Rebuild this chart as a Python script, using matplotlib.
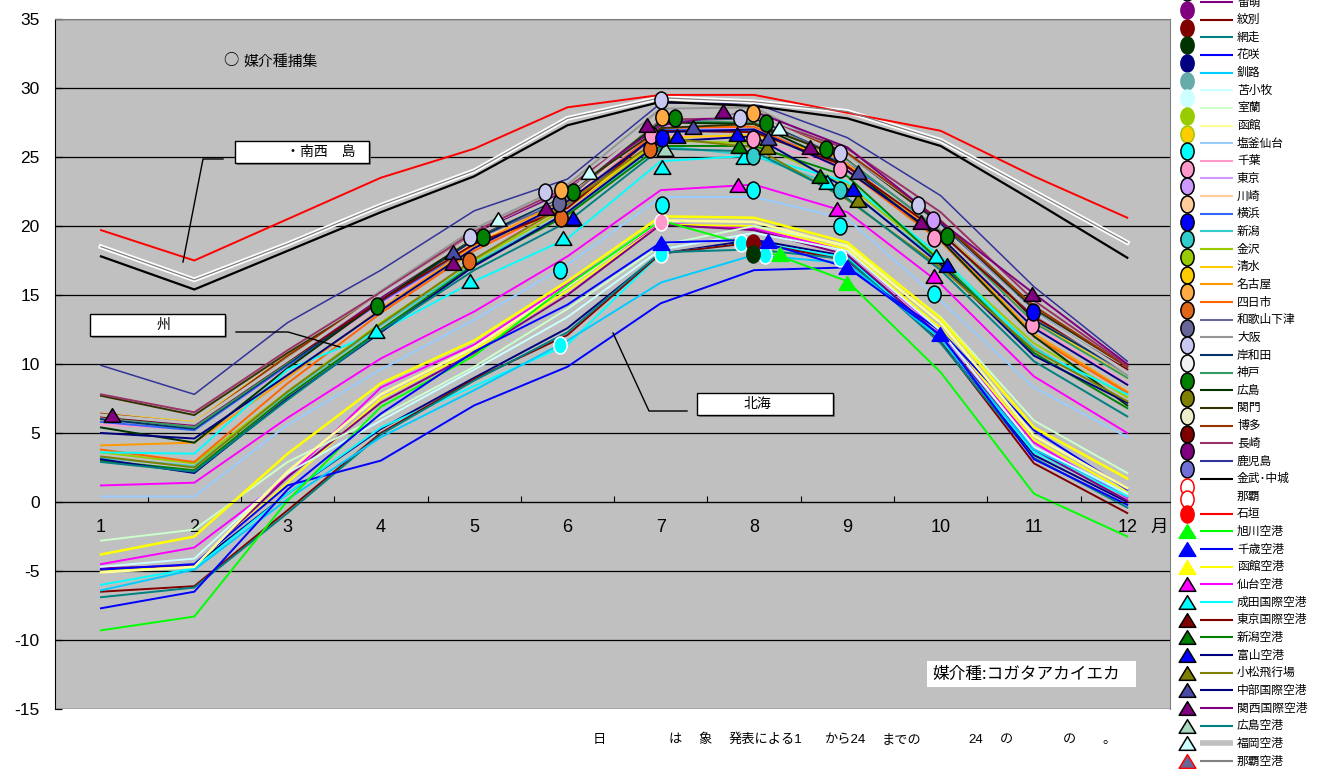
import matplotlib
matplotlib.use("Agg")
import matplotlib.pyplot as plt
from matplotlib.path import Path
from matplotlib.transforms import Affine2D
from matplotlib.patches import Rectangle

plt.rcParams['font.family'] = ['Liberation Sans', 'Noto Sans CJK JP', 'DejaVu Sans']
CJK = ['Noto Sans CJK JP', 'DejaVu Sans']

months = list(range(1, 13))
month_labels = [str(m) for m in months]
y_ticks = [35, 30, 25, 20, 15, 10, 5, 0, -5, -10, -15]

# ---- monthly mean temperature (deg C), Jan..Dec ----
# Hokkaido ports
wakkanai   = [-4.9, -4.6, 0.6, 5.3, 9.0, 12.6, 18.0, 19.0, 17.8, 11.8, 3.4, 0.0]
ishikari   = [-4.5, -3.3, 1.8, 8.3, 11.4, 15.8, 20.2, 19.8, 18.2, 12.3, 4.3, 0.3]
otaru      = [-5.0, -4.6, 1.4, 7.5, 11.0, 15.3, 20.1, 20.0, 18.3, 12.6, 4.5, 0.7]
tokachi    = [-6.0, -4.8, 0.6, 5.4, 8.4, 11.4, 18.0, 18.8, 17.7, 11.8, 3.6, 0.4]
rumoi      = [-4.8, -4.6, 1.8, 7.2, 10.8, 15.0, 20.1, 19.7, 17.9, 12.0, 3.8, 0.1]
monbetsu   = [-6.5, -6.1, -0.6, 5.0, 8.9, 12.1, 18.0, 18.8, 17.5, 11.6, 2.8, -0.8]
abashiri   = [-6.9, -6.2, -0.8, 4.9, 8.8, 12.3, 18.1, 18.3, 17.6, 11.5, 3.2, -0.4]
hanasaki   = [-4.9, -4.5, 1.2, 3.0, 7.0, 9.8, 14.4, 16.8, 17.0, 12.4, 5.2, 0.9]
kushiro    = [-6.4, -4.9, 0.2, 4.7, 8.1, 11.7, 15.9, 17.9, 17.3, 11.8, 3.8, 0.6]
tomakomai  = [-4.7, -4.1, 2.1, 5.9, 9.6, 13.4, 18.3, 19.5, 18.2, 12.4, 4.0, 0.6]
muroran    = [-2.8, -2.0, 2.9, 6.2, 9.8, 14.0, 18.6, 20.0, 18.6, 13.4, 5.9, 2.1]
hakodate   = [-5.1, -4.7, 2.2, 7.8, 11.2, 15.6, 20.4, 20.3, 18.5, 13.0, 4.8, 1.0]
# Honshu / Shikoku / Kyushu ports
shiogama   = [0.4, 0.4, 5.6, 9.6, 13.2, 17.2, 22.1, 22.1, 20.5, 14.6, 8.3, 4.7]
chiba      = [5.6, 5.3, 9.8, 14.4, 18.4, 21.0, 26.6, 26.3, 24.1, 19.1, 12.8, 8.6]
tokyo      = [6.1, 5.6, 10.3, 14.8, 18.8, 21.6, 27.2, 27.0, 24.6, 20.4, 13.5, 9.2]
kawasaki   = [6.0, 5.5, 10.0, 14.7, 18.8, 21.8, 27.6, 27.8, 24.8, 20.0, 13.3, 9.0]
yokohama   = [5.8, 5.2, 9.9, 14.5, 18.6, 21.5, 27.0, 26.9, 24.5, 20.0, 13.8, 9.4]
niigata    = [3.2, 2.6, 7.9, 12.8, 17.3, 21.0, 25.8, 25.1, 22.6, 17.4, 11.2, 7.2]
kanazawa   = [3.6, 2.8, 8.0, 13.0, 17.5, 21.3, 26.2, 26.0, 23.0, 17.6, 11.5, 7.6]
shimizu    = [6.4, 5.8, 10.6, 14.8, 18.6, 21.3, 26.4, 26.6, 24.8, 19.8, 13.2, 9.0]
nagoya     = [4.1, 4.3, 9.0, 14.0, 18.6, 22.0, 27.8, 28.0, 24.5, 19.2, 12.2, 8.0]
yokkaichi  = [3.8, 2.9, 8.6, 13.7, 18.2, 21.6, 27.1, 27.2, 24.0, 18.9, 12.0, 7.9]
wakayama   = [6.3, 5.4, 10.2, 14.7, 19.0, 22.0, 27.6, 27.8, 24.8, 19.8, 13.6, 9.6]
osaka      = [6.0, 5.5, 10.4, 15.3, 19.8, 23.0, 28.5, 28.6, 25.2, 19.9, 13.4, 9.2]
kishiwada  = [6.0, 5.3, 10.0, 14.6, 19.0, 22.3, 27.8, 27.8, 25.0, 20.2, 13.2, 9.4]
kobe       = [6.2, 5.4, 10.1, 14.9, 19.2, 22.5, 27.6, 27.5, 24.8, 19.6, 13.0, 9.0]
hiroshima  = [5.4, 4.3, 9.7, 14.6, 19.2, 22.4, 27.5, 27.4, 24.3, 19.0, 12.0, 7.0]
kanmon     = [7.7, 6.3, 10.8, 14.9, 19.2, 22.4, 27.1, 27.4, 24.9, 20.3, 14.0, 9.8]
hakata     = [6.4, 5.7, 10.6, 15.0, 19.4, 22.4, 27.8, 27.9, 25.3, 20.4, 14.2, 9.8]
nagasaki   = [7.8, 6.5, 11.0, 15.2, 19.6, 22.8, 27.7, 27.9, 25.6, 21.0, 14.6, 9.9]
kagoshima  = [9.9, 7.8, 13.0, 16.8, 21.1, 23.4, 28.9, 28.9, 26.4, 22.2, 15.6, 10.2]
# Okinawa ports
kin        = [17.8, 15.4, 18.2, 21.0, 23.6, 27.3, 29.0, 28.7, 27.8, 25.8, 21.8, 17.7]
naha       = [18.5, 16.1, 18.7, 21.5, 24.0, 27.8, 29.3, 29.0, 28.3, 26.2, 22.5, 18.8]
ishigaki   = [19.7, 17.5, 20.5, 23.5, 25.6, 28.6, 29.5, 29.5, 28.2, 26.9, 23.6, 20.6]
# airports
asahikawa_ap = [-9.3, -8.3, 0.1, 6.9, 10.6, 15.7, 20.4, 18.5, 16.0, 9.4, 0.6, -2.5]
chitose_ap   = [-7.7, -6.5, 0.9, 6.4, 10.9, 14.3, 18.8, 19.0, 17.0, 12.1, 3.1, -0.2]
hakodate_ap  = [-3.8, -2.5, 3.5, 8.6, 11.7, 16.0, 20.7, 20.6, 18.8, 13.3, 5.4, 1.7]
sendai_ap    = [1.2, 1.4, 6.1, 10.4, 13.8, 17.8, 22.6, 23.0, 21.0, 15.8, 9.1, 5.0]
narita_ap    = [3.6, 3.5, 9.6, 12.4, 16.0, 19.1, 24.7, 25.1, 23.2, 17.8, 11.0, 7.8]
haneda_ap    = [6.2, 5.6, 10.2, 14.6, 18.7, 21.3, 26.9, 26.8, 24.3, 19.5, 13.4, 9.6]
niigata_ap   = [3.0, 2.3, 7.7, 12.5, 17.2, 20.8, 25.8, 25.8, 23.6, 17.4, 10.8, 6.8]
toyama_ap    = [3.1, 2.1, 7.5, 12.3, 17.1, 21.0, 26.1, 26.5, 22.7, 17.2, 10.6, 7.2]
komatsu_ap   = [3.3, 2.5, 8.0, 12.9, 17.6, 21.6, 26.4, 25.7, 21.9, 17.0, 11.0, 7.3]
chubu_ap     = [5.0, 4.6, 9.2, 13.9, 18.4, 21.8, 26.8, 27.0, 24.0, 19.2, 12.6, 8.5]
kansai_ap    = [6.3, 5.6, 10.3, 14.8, 19.4, 22.6, 27.3, 28.3, 25.7, 20.3, 15.1, 10.0]
hiroshima_ap = [2.9, 2.2, 7.4, 12.4, 16.8, 20.3, 25.6, 25.4, 22.0, 16.8, 10.2, 6.2]
fukuoka_ap   = [6.3, 5.7, 10.3, 15.0, 19.3, 22.4, 27.9, 28.0, 25.0, 19.9, 13.7, 9.4]
naha_ap      = [18.5, 16.1, 18.7, 21.5, 24.0, 27.8, 29.3, 29.0, 28.3, 26.2, 22.5, 18.8]

# ---- months (x) and temperatures (y) where the vector species was captured ----
cap_kansai_x = [1.12, 4.77, 5.77, 6.85, 7.67, 8.60, 9.79, 10.98]
cap_kansai_y = [6.3, 17.3, 21.3, 27.3, 28.3, 25.7, 20.3, 15.1]
cap_chubu_x = [4.77, 7.35, 8.15, 9.11]
cap_chubu_y = [18.1, 27.2, 26.4, 23.9]
cap_osaka_x = [4.95, 5.76, 7.00, 7.85, 8.92, 9.76]
cap_osaka_y = [19.2, 22.5, 29.1, 27.8, 25.3, 21.5]
cap_nagoya_x = [5.93, 7.01, 7.99]
cap_nagoya_y = [22.6, 27.9, 28.2]
cap_kobe_x = [3.96, 5.09, 6.06, 7.15, 8.13, 8.77, 10.07]
cap_kobe_y = [14.2, 19.2, 22.5, 27.8, 27.5, 25.6, 19.3]
cap_wakayama_x = [5.91]
cap_wakayama_y = [21.7]
cap_yokkaichi_x = [4.94, 5.93, 6.88]
cap_yokkaichi_y = [17.5, 20.6, 25.6]
cap_toyama_x = [6.06, 7.17, 7.82, 9.06, 10.07]
cap_toyama_y = [20.6, 26.5, 26.7, 22.7, 17.2]
cap_fukuoka_x = [5.26, 6.23, 8.27]
cap_fukuoka_y = [20.5, 23.9, 27.1]
cap_narita_x = [3.95, 4.95, 5.95, 7.01, 7.89, 8.78, 9.95]
cap_narita_y = [12.4, 16.0, 19.1, 24.3, 25.0, 23.2, 17.8]
cap_chiba_x = [6.89, 7.99, 8.92, 9.93, 10.98]
cap_chiba_y = [26.6, 26.3, 24.1, 19.1, 12.8]
cap_yokohama_x = [7.01, 10.99]
cap_yokohama_y = [26.4, 13.8]
cap_hiroshima_ap_x = [7.05]
cap_hiroshima_ap_y = [25.6]
cap_niigata_ap_x = [7.84, 8.71]
cap_niigata_ap_y = [25.8, 23.6]
cap_komatsu_x = [8.14, 9.11]
cap_komatsu_y = [25.7, 21.9]
cap_niigata_x = [7.99, 8.92]
cap_niigata_y = [25.1, 22.6]
cap_sendai_ap_x = [7.83, 8.89, 9.93]
cap_sendai_ap_y = [23.0, 21.2, 16.4]
cap_shiogama_x = [5.92, 7.01, 7.99, 8.92, 9.93]
cap_shiogama_y = [16.8, 21.5, 22.6, 20.0, 15.1]
cap_tokyo_x = [9.92]
cap_tokyo_y = [20.4]
cap_tokachi_x = [5.92, 7.00, 7.86, 8.12, 8.92]
cap_tokachi_y = [11.4, 18.0, 18.8, 17.9, 17.7]
cap_hakodate_x = [7.00]
cap_hakodate_y = [20.3]
cap_monbetsu_x = [7.99]
cap_monbetsu_y = [18.8]
cap_abashiri_x = [7.99]
cap_abashiri_y = [18.0]
cap_asahikawa_x = [8.28, 9.00]
cap_asahikawa_y = [18.0, 15.9]
cap_chitose_x = [7.00, 8.15, 9.00, 9.99]
cap_chitose_y = [18.8, 18.9, 17.0, 12.2]

# ---- station names (legend order) ----
names = ['稚内', '石狩湾新港', '小樽', '十勝',
         '留萌', '紋別', '網走', '花咲', '釧路', '苫小牧', '室蘭', '函館',
         '塩釜仙台', '千葉', '東京', '川崎', '横浜', '新潟', '金沢', '清水',
         '名古屋', '四日市', '和歌山下津', '大阪', '岸和田', '神戸', '広島',
         '関門', '博多', '長崎', '鹿児島', '金武･中城', '那覇', '石垣',
         '旭川空港', '千歳空港', '函館空港', '仙台空港', '成田国際空港',
         '東京国際空港', '新潟空港', '富山空港', '小松飛行場', '中部国際空港',
         '関西国際空港', '広島空港', '福岡空港', '那覇空港']
values = [wakkanai, ishikari, otaru, tokachi,
          rumoi, monbetsu, abashiri, hanasaki, kushiro, tomakomai, muroran, hakodate,
          shiogama, chiba, tokyo, kawasaki, yokohama, niigata, kanazawa, shimizu,
          nagoya, yokkaichi, wakayama, osaka, kishiwada, kobe, hiroshima,
          kanmon, hakata, nagasaki, kagoshima, kin, naha, ishigaki,
          asahikawa_ap, chitose_ap, hakodate_ap, sendai_ap, narita_ap,
          haneda_ap, niigata_ap, toyama_ap, komatsu_ap, chubu_ap,
          kansai_ap, hiroshima_ap, fukuoka_ap, naha_ap]

line_colors = ['#000080', '#ff00ff', '#ffff00', '#00ffff',
               '#800080', '#800000', '#008080', '#0000ff', '#00ccff', '#ccffff', '#ccffcc', '#ffff99',
               '#99ccff', '#ff99cc', '#cc99ff', '#ffcc99', '#3366ff', '#33cccc', '#99cc00', '#ffcc00',
               '#ff9900', '#ff6600', '#666699', '#969696', '#003366', '#339966', '#003300',
               '#333300', '#993300', '#993366', '#333399', '#000000', '#ffffff', '#ff0000',
               '#00ff00', '#0000ff', '#ffff00', '#ff00ff', '#00ffff',
               '#800000', '#008000', '#000080', '#808000', '#000080',
               '#800080', '#008080', '#c0c0c0', '#808080']
line_widths = {'金武･中城': 1.6, '那覇': 3.4, '那覇空港': 0.9, '福岡空港': 2.2,
               '鹿児島': 1.1, '函館空港': 1.8, '函館': 1.8}

# legend key markers: (fill, edge, shape)
key_markers = [None, None, None, ('#00ffff', 'black', 'o'),
               ('#800080', '#800080', 'o'), ('#800000', '#800000', 'o'), ('#003300', '#003300', 'o'),
               ('#000080', '#000080', 'o'), ('#66aaaa', '#66aaaa', 'o'), ('#ccffff', '#ccffff', 'o'),
               ('#99cc00', '#99cc00', 'o'), ('#ffcc00', '#99cc00', 'o'),
               ('#00ffff', 'black', 'o'), ('#ff99cc', 'black', 'o'), ('#cc99ff', 'black', 'o'),
               ('#ffcc99', 'black', 'o'), ('#0000ff', 'black', 'o'), ('#33cccc', 'black', 'o'),
               ('#99cc00', 'black', 'o'), ('#ffcc00', 'black', 'o'),
               ('#ffaa44', 'black', 'o'), ('#e0661a', 'black', 'o'), ('#666699', 'black', 'o'),
               ('#c8c8f0', 'black', 'o'), ('#f2f2f2', 'black', 'o'), ('#008000', 'black', 'o'),
               ('#808000', 'black', 'o'), ('#eeeecc', 'black', 'o'), ('#800000', 'black', 'o'),
               ('#800080', 'black', 'o'), ('#7070d8', 'black', 'o'), ('#ffffff', '#ff0000', 'o'),
               ('#ffffff', '#ff0000', 'o'), ('#ff0000', '#ff0000', 'o'),
               ('#00ff00', '#00ff00', 't'), ('#0000ff', '#0000ff', 't'), ('#ffff00', '#ffff00', 't'),
               ('#ff00ff', 'black', 't'), ('#00ffff', 'black', 't'), ('#800000', 'black', 't'),
               ('#008000', 'black', 't'), ('#0000ff', 'black', 't'), ('#808000', 'black', 't'),
               ('#4a4aa8', 'black', 't'), ('#800080', 'black', 't'), ('#a8d8c0', 'black', 't'),
               ('#ccffff', 'black', 't'), ('#666699', '#ff0000', 't')]

ELLIPSE = Path.unit_circle().transformed(Affine2D().scale(0.78, 1.0))
TRI = Path([(0, 0.82), (-1, -0.82), (1, -0.82), (0, 0.82)],
           [Path.MOVETO, Path.LINETO, Path.LINETO, Path.CLOSEPOLY])


def shape(s):
    return ELLIPSE if s == 'o' else TRI


captures = [
    (cap_tokachi_x, cap_tokachi_y, '#00ffff', 'white', 'o'),
    (cap_hakodate_x, cap_hakodate_y, '#ff99cc', 'white', 'o'),
    (cap_monbetsu_x, cap_monbetsu_y, '#800000', '#800000', 'o'),
    (cap_abashiri_x, cap_abashiri_y, '#003300', '#003300', 'o'),
    (cap_asahikawa_x, cap_asahikawa_y, '#00ff00', '#00ff00', 't'),
    (cap_chitose_x, cap_chitose_y, '#0000ff', '#0000ff', 't'),
    (cap_shiogama_x, cap_shiogama_y, '#00ffff', 'black', 'o'),
    (cap_sendai_ap_x, cap_sendai_ap_y, '#ff00ff', 'black', 't'),
    (cap_narita_x, cap_narita_y, '#00ffff', 'black', 't'),
    (cap_niigata_x, cap_niigata_y, '#33cccc', 'black', 'o'),
    (cap_niigata_ap_x, cap_niigata_ap_y, '#008000', 'black', 't'),
    (cap_komatsu_x, cap_komatsu_y, '#808000', 'black', 't'),
    (cap_hiroshima_ap_x, cap_hiroshima_ap_y, '#a8d8c0', 'black', 't'),
    (cap_toyama_x, cap_toyama_y, '#0000ff', 'black', 't'),
    (cap_yokkaichi_x, cap_yokkaichi_y, '#e0661a', 'black', 'o'),
    (cap_wakayama_x, cap_wakayama_y, '#666699', 'black', 'o'),
    (cap_chiba_x, cap_chiba_y, '#ff99cc', 'black', 'o'),
    (cap_yokohama_x, cap_yokohama_y, '#0000ff', 'black', 'o'),
    (cap_tokyo_x, cap_tokyo_y, '#cc99ff', 'black', 'o'),
    (cap_fukuoka_x, cap_fukuoka_y, '#ccffff', 'black', 't'),
    (cap_chubu_x, cap_chubu_y, '#4a4aa8', 'black', 't'),
    (cap_kansai_x, cap_kansai_y, '#800080', 'black', 't'),
    (cap_kobe_x, cap_kobe_y, '#008000', 'black', 'o'),
    (cap_nagoya_x, cap_nagoya_y, '#ffaa44', 'black', 'o'),
    (cap_osaka_x, cap_osaka_y, '#c8c8f0', 'black', 'o'),
]

W, H = 1317, 769
fig = plt.figure(figsize=(W / 100, H / 100), dpi=100)
fig.patch.set_facecolor('white')

ax = fig.add_axes([55 / W, 1 - 709 / H, (1170 - 55) / W, (709 - 19) / H])
ax.set_facecolor('#c0c0c0')
ax.set_xlim(0.507, 12.458)
ax.set_ylim(-15, 35)

for yv in y_ticks:
    ax.axhline(yv, color='black', lw=0.9, zorder=1)

for nm, vals, col in zip(names, values, line_colors):
    ax.plot(months, vals, color=col, lw=line_widths.get(nm, 1.4), zorder=2,
            solid_joinstyle='miter')

for xs, ys, fc, ec, s in captures:
    ax.plot(xs, ys, ls='none', marker=shape(s), markersize=12.2 if s == 'o' else 12.0,
            markerfacecolor=fc, markeredgecolor=ec, markeredgewidth=1.1, zorder=4)

# axes frame
for side in ['top', 'right']:
    ax.spines[side].set_color('#808080')
    ax.spines[side].set_linewidth(0.8)
ax.spines['left'].set_color('black')
ax.spines['bottom'].set_position(('data', 0))
ax.spines['bottom'].set_color('black')

ax.set_yticks(y_ticks)
ax.set_yticklabels([str(v) for v in y_ticks], fontsize=12.5)
ax.tick_params(axis='y', direction='in', length=5, width=0.9, pad=11)

ax.set_xticks(months)
ax.set_xticklabels(month_labels, fontsize=13)
ax.set_xticks([m + 0.5 for m in months[:-1]], minor=True)
ax.tick_params(axis='x', which='major', length=0, pad=12)
ax.tick_params(axis='x', which='minor', direction='in', length=4.5, width=0.8)

# ---- overlay in pixel coordinates for notes and the key ----
ov = fig.add_axes([0, 0, 1, 1], zorder=5)
ov.set_xlim(0, W)
ov.set_ylim(H, 0)
ov.axis('off')
ov.patch.set_alpha(0)

ov.text(231, 61, '○', ha='center', va='center', fontsize=11, family=CJK)
ov.text(243, 62, '媒介種捕集', ha='left', va='center', fontsize=10.7, family=CJK)

boxes = [((235, 141, 134, 22), (286, 152), '・南西　島', 'left'),
         ((90, 314, 135, 22), (164, 325), '州', 'center'),
         ((697, 393, 136, 22), (757, 404), '北海', 'center')]
for (bx, by, bw, bh), (tx, ty), txt, ha in boxes:
    ov.add_patch(Rectangle((bx + 2, by + 2), bw, bh, facecolor='#808080', edgecolor='none'))
    ov.add_patch(Rectangle((bx, by), bw, bh, facecolor='white', edgecolor='black', lw=1.0))
    ov.text(tx, ty, txt, ha=ha, va='center', fontsize=10, family=CJK)

leaders = [([223, 203, 183], [159, 159, 262]),
           ([236, 288, 340], [332, 332, 347]),
           ([687, 649, 613], [411, 411, 333])]
for lx, ly in leaders:
    ov.plot(lx, ly, color='black', lw=1.0)

ov.add_patch(Rectangle((927, 661), 209, 26, facecolor='white', edgecolor='none'))
ov.text(932, 674, '媒介種:コガタアカイエカ', ha='left', va='center', fontsize=12, family=CJK)

ov.text(1150, 527, '月', ha='left', va='center', fontsize=12.5, family=CJK)

note_parts = [(593, '日'), (668, 'は'), (698, '象'), (729, '発表による1'),
              (825, 'から24'), (882, 'までの'), (968, '24'), (1000, 'の'),
              (1063, 'の'), (1102, '。')]
for nx, nt in note_parts:
    ov.text(nx, 740, nt, ha='left', va='center', fontsize=9.5)

# key: marker column, line sample, station name
row0 = 2.0 - 4 * 17.65
for i, (nm, col) in enumerate(zip(names, line_colors)):
    ry = row0 + i * 17.65
    km = key_markers[i]
    if km is not None:
        fc, ec, s = km
        if s == 'o':
            off = 0 if nm == '石垣' else (3 if nm == '那覇' else 8)
        else:
            off = 0
        ov.plot([1187], [ry + off], ls='none', marker=shape(s),
                markersize=12.2 if s == 'o' else 12.0, markerfacecolor=fc,
                markeredgecolor=ec, markeredgewidth=1.1, clip_on=False)
    if ry < -6:
        continue
    lw = 4.0 if nm == '福岡空港' else 1.5
    ov.plot([1200, 1233], [ry, ry], color=col, lw=lw, clip_on=False,
            solid_capstyle='butt')
    ov.text(1237, ry, nm, ha='left', va='center', fontsize=8.5, family=CJK)

fig.savefig('out.png', dpi=100)
